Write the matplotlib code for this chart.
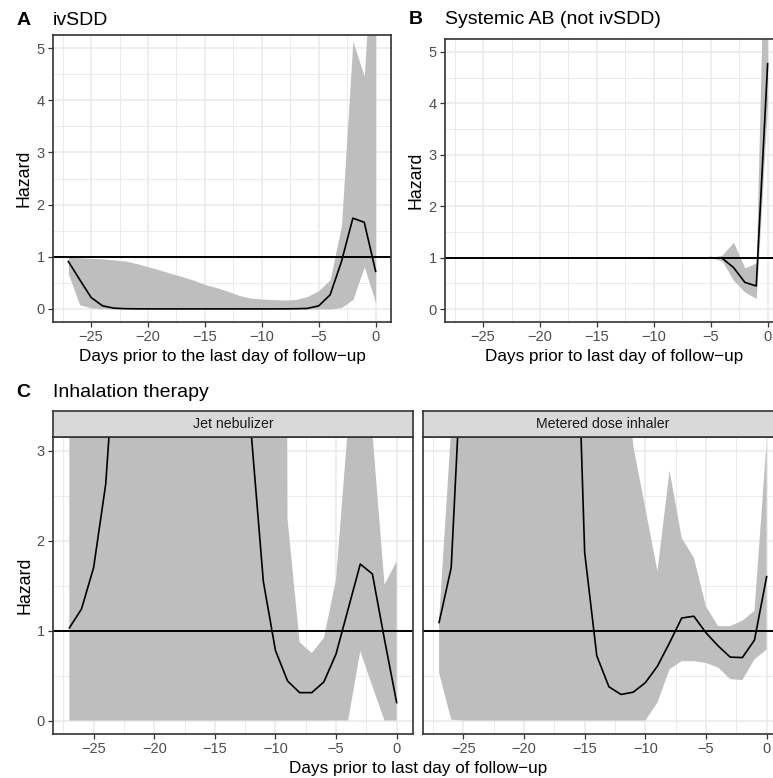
import matplotlib
matplotlib.use('Agg')
import matplotlib.pyplot as plt
import numpy as np

plt.rcParams['font.family'] = ['Liberation Sans', 'DejaVu Sans']

# ---------------- data ----------------
days_a = list(range(-27, 1))
haz_a = [0.91, 0.56, 0.22, 0.06, 0.015, 0.005, 0.002, 0.001, 0.001, 0.001, 0.001, 0.001,
         0.001, 0.001, 0.001, 0.001, 0.001, 0.001, 0.001, 0.002, 0.004, 0.01, 0.06, 0.27,
         0.91, 1.74, 1.66, 0.72]
lo_a = [0.67, 0.08, 0.02, 0.005, 0.0, 0.0, 0.0, 0.0, 0.0, 0.0, 0.0, 0.0, 0.0, 0.0,
        0.0, 0.0, 0.0, 0.0, 0.0, 0.0, 0.0, 0.0, 0.0, 0.0, 0.03, 0.18, 0.81, 0.12]
hi_a = [1.0, 0.98, 0.97, 0.96, 0.94, 0.92, 0.87, 0.81, 0.75, 0.68, 0.62, 0.55, 0.47,
        0.41, 0.34, 0.26, 0.21, 0.19, 0.18, 0.17, 0.18, 0.24, 0.35, 0.56, 1.6, 5.13,
        4.46, 8.0]

days_b = list(range(-5, 1))
haz_b = [1.0, 0.99, 0.81, 0.52, 0.45, 4.77]
lo_b = [1.0, 0.94, 0.56, 0.33, 0.21, 4.0]
hi_b = [1.0, 1.05, 1.30, 0.80, 0.90, 10.0]

days_c = list(range(-27, 1))
haz_jet = [1.03, 1.24, 1.70, 2.63, 4.6, 7.0, 9.0, 11.0, 12.0, 12.0, 11.0, 10.0, 9.0,
           8.0, 6.0, 3.2, 1.55, 0.78, 0.44, 0.31, 0.31, 0.43, 0.74, 1.24, 1.74, 1.63,
           0.9, 0.20]
lo_jet = [0.0] * 23 + [0.0, 0.77, 0.38, 0.0, 0.0]
hi_jet = [40.0] * 17 + [40.0, 2.24, 0.87, 0.75, 0.92, 1.57, 3.3, 6.0, 3.2, 1.51, 1.77]

haz_mdi = [1.09, 1.70, 4.45, 9.0, 12.0, 14.0, 15.0, 15.0, 14.0, 12.0, 10.0, 6.2, 1.87,
           0.72, 0.375, 0.29, 0.315, 0.42, 0.605, 0.865, 1.14, 1.16, 0.976, 0.83, 0.705,
           0.70, 0.895, 1.60]
lo_mdi = [0.53, 0.01] + [0.0] * 15 + [0.0, 0.2, 0.57, 0.66, 0.66, 0.64, 0.59, 0.46,
                                       0.45, 0.68, 0.79]
hi_mdi = [1.12, 3.25] + [40.0] * 13 + [5.0, 3.06, 2.36, 1.66, 2.78, 2.03, 1.81, 1.27,
                                        1.05, 1.05, 1.11, 1.22, 3.1]

xticks = [-25, -20, -15, -10, -5, 0]

# ---------------- figure ----------------
W, H = 773, 778
fig = plt.figure(figsize=(W / 100, H / 100), dpi=100)

GRID = '#EBEBEB'
BORDER = '#333333'
TICKC = '#4D4D4D'
FILL = '#BEBEBE'


def ax_px(left, top, right, bottom):
    return fig.add_axes([left / W, 1 - bottom / H, (right - left) / W, (bottom - top) / H])


def style(ax, ylim, yticks, yminor, show_y=True):
    ax.set_xlim(-28.35, 1.35)
    ax.set_ylim(*ylim)
    ax.set_xticks(xticks)
    ax.set_xticks([-27.5, -22.5, -17.5, -12.5, -7.5, -2.5], minor=True)
    ax.set_yticks(yticks)
    ax.set_yticks(yminor, minor=True)
    ax.grid(True, which='major', color=GRID, linewidth=1.2, zorder=0)
    ax.grid(True, which='minor', color=GRID, linewidth=0.7, zorder=0)
    ax.set_axisbelow(True)
    for s in ax.spines.values():
        s.set_color(BORDER)
        s.set_linewidth(1.2)
        s.set_zorder(5)
    ax.tick_params(which='major', length=3.5, width=0.9, color=BORDER,
                   labelsize=10.5, labelcolor=TICKC, pad=2.5)
    ax.tick_params(which='minor', length=0)
    if not show_y:
        ax.tick_params(axis='y', which='both', labelleft=False, length=0)


def draw(ax, d, lo, hi, haz):
    ax.fill_between(d, lo, hi, color=FILL, linewidth=0, zorder=2)
    ax.axhline(1, color='black', linewidth=1.4, zorder=3)
    ax.plot(d, haz, color='black', linewidth=1.2, zorder=4)


# Panel A
axA = ax_px(53, 35, 391, 322)
draw(axA, days_a, lo_a, hi_a, haz_a)
style(axA, (-0.25, 5.25), [0, 1, 2, 3, 4, 5], [0.5, 1.5, 2.5, 3.5, 4.5])

# Panel B (extends past the right edge, cropped like the reference)
axB = ax_px(445, 39, 783, 322)
draw(axB, days_b, lo_b, hi_b, haz_b)
style(axB, (-0.25, 5.25), [0, 1, 2, 3, 4, 5], [0.5, 1.5, 2.5, 3.5, 4.5])

# Panel C
axC1 = ax_px(53, 437.3, 413, 734)
draw(axC1, days_c, lo_jet, hi_jet, haz_jet)
style(axC1, (-0.15, 3.15), [0, 1, 2, 3], [0.5, 1.5, 2.5])

axC2 = ax_px(422.7, 437.3, 783, 734)
draw(axC2, days_c, lo_mdi, hi_mdi, haz_mdi)
style(axC2, (-0.15, 3.15), [0, 1, 2, 3], [0.5, 1.5, 2.5], show_y=False)

# strips
for (l, r, label) in [(53, 413, 'Jet nebulizer'), (422.7, 783, 'Metered dose inhaler')]:
    sa = ax_px(l, 410.7, r, 437.3)
    sa.set_facecolor('#D9D9D9')
    sa.set_xticks([])
    sa.set_yticks([])
    for s in sa.spines.values():
        s.set_color(BORDER)
        s.set_linewidth(1.2)
    fig.text(((l + r) / 2) / W, 1 - 424.5 / H, label, ha='center', va='center',
             fontsize=10.2, color='#1A1A1A')


def ftext(x, y, s, **kw):
    fig.text(x / W, 1 - y / H, s, **kw)


# titles
ftext(16.7, 25, 'A', fontsize=14, fontweight='bold', va='baseline', ha='left')
ftext(53, 25, 'ivSDD', fontsize=14, va='baseline', ha='left')
ftext(408.3, 24.5, 'B', fontsize=14, fontweight='bold', va='baseline', ha='left')
ftext(445, 24.5, 'Systemic AB (not ivSDD)', fontsize=14, va='baseline', ha='left')
ftext(16.7, 396.7, 'C', fontsize=14, fontweight='bold', va='baseline', ha='left')
ftext(53, 396.7, 'Inhalation therapy', fontsize=14, va='baseline', ha='left')

# x labels
ftext(222, 361, 'Days prior to the last day of follow\u2212up', fontsize=12.3,
      ha='center', va='baseline')
ftext(614, 361, 'Days prior to last day of follow\u2212up', fontsize=12.3,
      ha='center', va='baseline')
ftext(418, 773, 'Days prior to last day of follow\u2212up', fontsize=12.3,
      ha='center', va='baseline')

# y labels
for (x, y) in [(28.3, 178.5), (420.3, 180.5), (29.3, 585.5)]:
    ftext(x, y, 'Hazard', fontsize=12.8, rotation=90, rotation_mode='anchor',
          ha='center', va='baseline')

fig.savefig('out.png', dpi=100)
